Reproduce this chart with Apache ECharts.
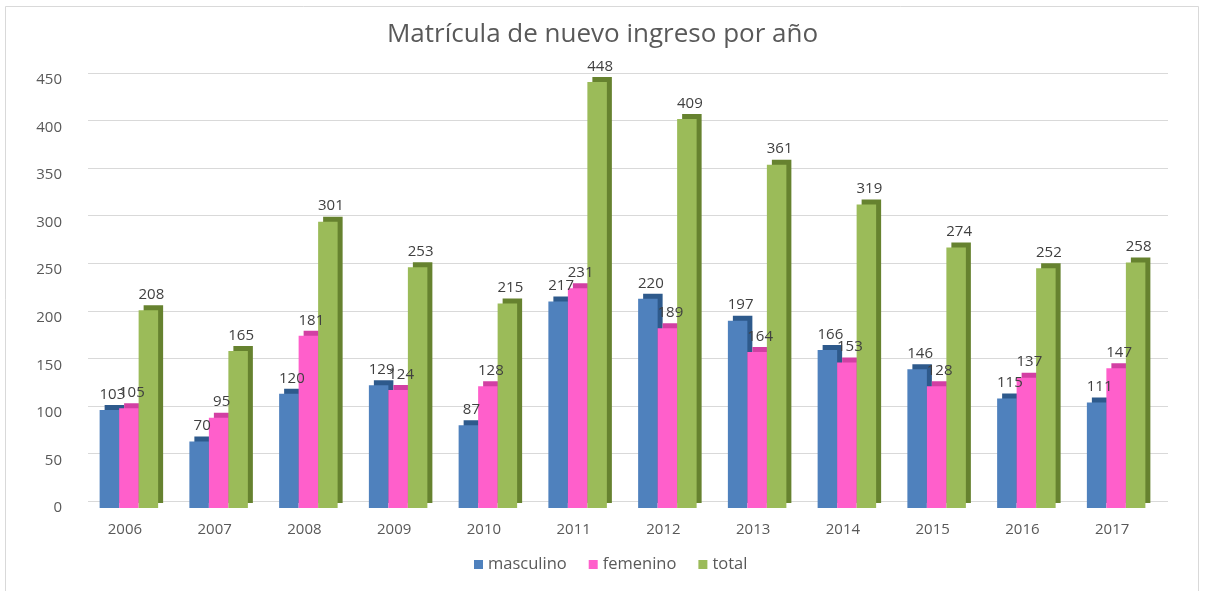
<!DOCTYPE html>
<html><head><meta charset="utf-8">
<script src="https://cdn.jsdelivr.net/npm/echarts@6/dist/echarts.min.js"></script>
<style>html,body{margin:0;padding:0;background:#fff}#c{width:1205px;height:591px}</style>
</head><body><div id="c"></div>
<script>
const categories = ['2006','2007','2008','2009','2010','2011','2012','2013','2014','2015','2016','2017'];
const masculino = [103,70,120,129,87,217,220,197,166,146,115,111];
const femenino = [105,95,181,124,128,231,189,164,153,128,137,147];
const total = [208,165,301,253,215,448,409,361,319,274,252,258];
const yTicks = [0,50,100,150,200,250,300,350,400,450];

const font = '"Open Sans", "Liberation Sans", sans-serif';
const chart = echarts.init(document.getElementById('c'));

function bar(name, data, face, side) {
  return {
    name, type: 'bar', data, xAxisIndex: 1, yAxisIndex: 1, z: 2,
    barWidth: 19.5, barGap: '0%',
    itemStyle: { color: face, shadowColor: side, shadowBlur: 0, shadowOffsetX: 5, shadowOffsetY: -5 },
    label: { show: false },
    emphasis: { disabled: true }
  };
}
function labels(name, data) {
  return {
    name: name + '_lbl', type: 'bar', data, xAxisIndex: 2, yAxisIndex: 1, z: 10,
    barWidth: 19.5, barGap: '0%', silent: true, legendHoverLink: false,
    itemStyle: { color: 'rgba(0,0,0,0)' },
    label: { show: true, position: 'top', distance: 8, offset: [3, 0], color: '#404040', fontSize: 15, fontFamily: font },
    emphasis: { disabled: true }, tooltip: { show: false }
  };
}

chart.setOption({
  animation: false,
  backgroundColor: '#fff',
  title: {
    text: 'Matrícula de nuevo ingreso por año', left: 'center', top: 17,
    textStyle: { color: '#595959', fontSize: 26, fontWeight: 'normal', fontFamily: font }
  },
  legend: {
    bottom: 13, left: 469, itemWidth: 9, itemHeight: 9, itemGap: 22, icon: 'rect',
    textStyle: { color: '#595959', fontSize: 16.5, fontFamily: font },
    data: ['masculino', 'femenino', 'total']
  },
  graphic: [{
    type: 'rect', shape: { x: 5.5, y: 6.5, width: 1193, height: 590 },
    style: { fill: 'none', stroke: '#d9d9d9', lineWidth: 1 }, silent: true, z: -10
  }],
  grid: [
    { left: 88, right: 37, top: 73, bottom: 90 },
    { left: 84, right: 44, top: 80, bottom: 83 }
  ],
  xAxis: [
    { type: 'category', gridIndex: 0, data: categories, show: false },
    { type: 'category', gridIndex: 1, data: categories,
      axisLine: { show: false }, axisTick: { show: false },
      axisLabel: { color: '#595959', fontSize: 15, fontFamily: font, margin: 14, padding: [0, 8, 0, 0] } },
    { type: 'category', gridIndex: 1, data: categories, show: false }
  ],
  yAxis: [
    { type: 'value', gridIndex: 0, min: 0, max: 450, interval: 50,
      axisLabel: { show: false }, axisLine: { show: false }, axisTick: { show: false },
      splitLine: { lineStyle: { color: '#d9d9d9', width: 1 } } },
    { type: 'value', gridIndex: 1, min: 0, max: 450, interval: 50,
      axisLine: { show: false }, axisTick: { show: false }, splitLine: { show: false },
      axisLabel: { color: '#595959', fontSize: 15, fontFamily: font, margin: 22,
        formatter: v => yTicks.includes(v) ? String(v) : '' } }
  ],
  series: [
    bar('masculino', masculino, '#4f81bd', '#2e5a8c'),
    bar('femenino', femenino, '#ff5fcb', '#d23fa3'),
    bar('total', total, '#9bbb59', '#66822f'),
    labels('masculino', masculino),
    labels('femenino', femenino),
    labels('total', total)
  ]
});
</script></body></html>
